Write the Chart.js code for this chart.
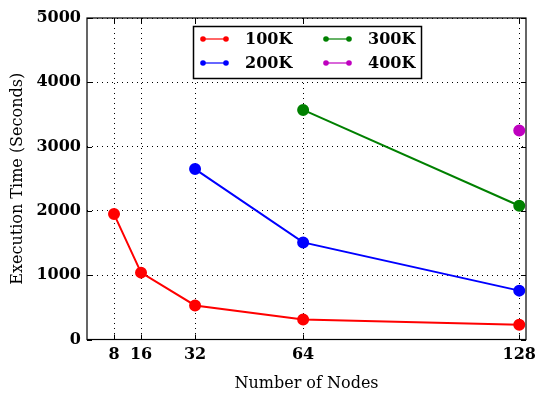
<!DOCTYPE html>
<html>
<head>
<meta charset="utf-8">
<script src="https://cdn.jsdelivr.net/npm/chart.js@4.4.1/dist/chart.umd.min.js"></script>
<style>
  html, body { margin: 0; padding: 0; background: #fff; }
  #wrap { width: 540px; height: 393px; position: relative; }
</style>
</head>
<body>
<div id="wrap"><canvas id="c" width="540" height="393"></canvas></div>
<script>
// Number of nodes on the x axis
const nodes = [8, 16, 32, 64, 128];
// Execution time in seconds per problem size (null = not run)
const t100K = [1950, 1040, 530, 310, 230];
const t200K = [null, null, 2650, 1510, 760];
const t300K = [null, null, null, 3570, 2080];
const t400K = [null, null, null, null, 3250];
const yTicks = [0, 1000, 2000, 3000, 4000, 5000];

const seriesNames = ['100K', '200K', '300K', '400K'];
const seriesValues = [t100K, t200K, t300K, t400K];
const seriesColors = ['#ff0000', '#0000ff', '#008000', '#bf00bf'];

const SERIF = '"DejaVu Serif", "Liberation Serif", serif';

const datasets = seriesNames.map((name, i) => ({
  label: name,
  data: nodes.map((n, j) => ({ x: n, y: seriesValues[i][j] })),
  borderColor: seriesColors[i],
  backgroundColor: seriesColors[i],
  pointBackgroundColor: seriesColors[i],
  pointBorderColor: seriesColors[i],
  borderWidth: 2,
  pointRadius: 5,
  pointHoverRadius: 5,
  tension: 0,
  spanGaps: false
}));

// Inward tick marks on all four sides, plus the legend box inside the plot
const decorations = {
  id: 'decorations',
  afterDraw(chart) {
    const { ctx, chartArea: a, scales } = chart;
    const xs = scales.x, ys = scales.y;
    ctx.save();
    ctx.strokeStyle = '#000';
    ctx.lineWidth = 1;
    ctx.beginPath();
    nodes.forEach(n => {
      const px = Math.round(xs.getPixelForValue(n)) + 0.5;
      ctx.moveTo(px, a.bottom); ctx.lineTo(px, a.bottom - 5);
      ctx.moveTo(px, a.top); ctx.lineTo(px, a.top + 5);
    });
    yTicks.forEach(v => {
      const py = Math.round(ys.getPixelForValue(v)) + 0.5;
      ctx.moveTo(a.left, py); ctx.lineTo(a.left + 5, py);
      ctx.moveTo(a.right, py); ctx.lineTo(a.right - 5, py);
    });
    ctx.stroke();
    // plot frame
    ctx.lineWidth = 1.2;
    ctx.strokeRect(a.left, a.top, a.right - a.left, a.bottom - a.top);

    // legend
    const bx = 193, by = 26, bw = 228, bh = 52;
    ctx.fillStyle = '#fff';
    ctx.fillRect(bx, by, bw, bh);
    ctx.lineWidth = 1.5;
    ctx.strokeStyle = '#000';
    ctx.strokeRect(bx + 0.5, by + 0.5, bw, bh);
    const cols = [203, 326];
    const rows = [39, 63];
    ctx.font = 'bold 16px ' + SERIF;
    ctx.textBaseline = 'middle';
    ctx.textAlign = 'left';
    seriesNames.forEach((name, i) => {
      const cx = cols[Math.floor(i / 2)];
      const cy = rows[i % 2];
      ctx.strokeStyle = seriesColors[i];
      ctx.lineWidth = 1.2;
      ctx.beginPath();
      ctx.moveTo(cx, cy); ctx.lineTo(cx + 23, cy);
      ctx.stroke();
      ctx.fillStyle = seriesColors[i];
      [cx, cx + 23].forEach(px => {
        ctx.beginPath(); ctx.arc(px, cy, 2.8, 0, Math.PI * 2); ctx.fill();
      });
      ctx.fillStyle = '#000';
      ctx.fillText(name, cx + 42, cy + 1);
    });
    ctx.restore();
  }
};

new Chart(document.getElementById('c'), {
  type: 'line',
  data: { datasets },
  plugins: [decorations],
  options: {
    responsive: false,
    animation: false,
    events: [],
    layout: { padding: { left: 0, right: 14, top: 18, bottom: 0 } },
    plugins: { legend: { display: false }, tooltip: { enabled: false } },
    scales: {
      x: {
        type: 'linear',
        min: 0,
        max: 130,
        afterBuildTicks(scale) { scale.ticks = nodes.map(v => ({ value: v })); },
        afterFit(scale) {
          scale.height = 53.5;
          scale.paddingLeft = 0;
          scale.paddingRight = 0;
        },
        grid: {
          color: '#000',
          lineWidth: 1,
          drawTicks: false
        },
        border: { display: false, dash: [1, 4] },
        ticks: {
          color: '#000',
          padding: 6,
          maxRotation: 0,
          autoSkip: false,
          callback: v => String(v),
          font: { family: SERIF, size: 16, weight: 'bold' }
        },
        title: {
          display: true,
          text: 'Number of Nodes',
          color: '#000',
          padding: { top: 2, bottom: 0 },
          font: { family: SERIF, size: 16 }
        }
      },
      y: {
        min: 0,
        max: 5000,
        afterBuildTicks(scale) { scale.ticks = yTicks.map(v => ({ value: v })); },
        afterFit(scale) {
          scale.width = 87;
          scale.paddingTop = 0;
          scale.paddingBottom = 0;
        },
        grid: {
          color: '#000',
          lineWidth: 1,
          drawTicks: false
        },
        border: { display: false, dash: [1, 4] },
        ticks: {
          color: '#000',
          padding: 6,
          callback: v => String(v),
          font: { family: SERIF, size: 16, weight: 'bold' }
        },
        title: {
          display: true,
          text: 'Execution Time (Seconds)',
          color: '#000',
          padding: { top: 8, bottom: 0 },
          font: { family: SERIF, size: 16 }
        }
      }
    }
  }
});
</script>
</body>
</html>
